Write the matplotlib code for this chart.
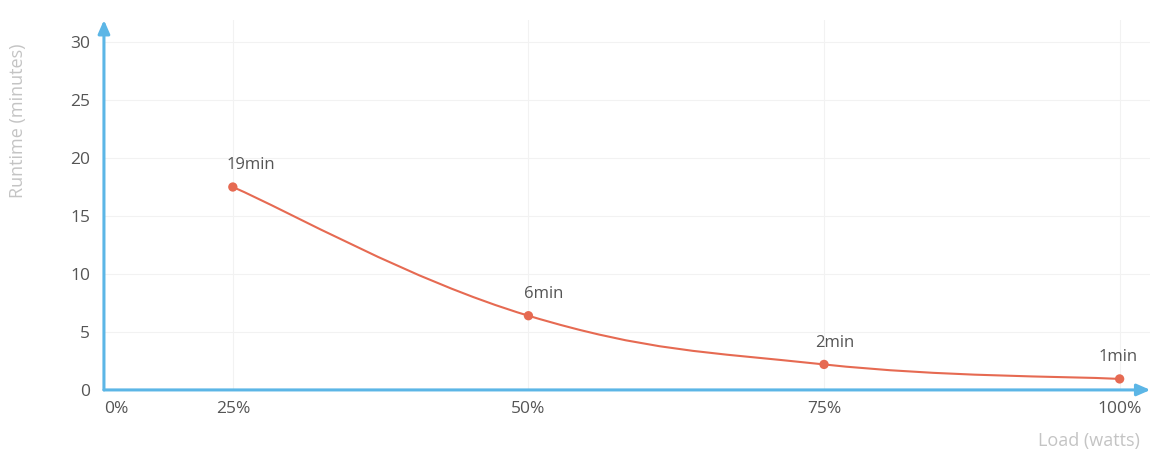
import matplotlib
matplotlib.use("Agg")
import matplotlib.pyplot as plt
from matplotlib.path import Path
from matplotlib.patches import PathPatch
import numpy as np

plt.rcParams['font.family'] = ['Open Sans', 'DejaVu Sans']

# Data
load_pct = [25, 50, 75, 100]
runtime_min = [17.5, 6.4, 2.2, 0.95]
point_labels = ["19min", "6min", "2min", "1min"]
x_tick_labels = ["0%", "25%", "50%", "75%", "100%"]
y_ticks = [0, 5, 10, 15, 20, 25, 30]

# label offsets (pixels) relative to each point
label_dx = [18, 15, 11, -2]

LINE = '#e66a52'
AXIS = '#5cb6e6'
TICK = '#555555'
TITLE = '#c4c4c4'

fig = plt.figure(figsize=(11.55, 4.55), dpi=100)
ax = fig.add_axes([0.090, 0.143, 0.906, 0.813])

x_left = 14.1
ax.set_xlim(x_left, 102.6)
ax.set_ylim(0, 31.9)

# smooth curve through the points (Catmull-Rom as cubic Bezier)
xs = np.array(load_pct, float)
ys = np.array(runtime_min, float)
verts = [(xs[0], ys[0])]
codes = [Path.MOVETO]
t = 0.4
n = len(xs)
for i in range(n - 1):
    p0 = (xs[max(i - 1, 0)], ys[max(i - 1, 0)])
    p1 = (xs[i], ys[i])
    p2 = (xs[i + 1], ys[i + 1])
    p3 = (xs[min(i + 2, n - 1)], ys[min(i + 2, n - 1)])
    c1 = (p1[0] + (p2[0] - p0[0]) * t / 2, p1[1] + (p2[1] - p0[1]) * t / 2)
    c2 = (p2[0] - (p3[0] - p1[0]) * t / 2, p2[1] - (p3[1] - p1[1]) * t / 2)
    verts += [c1, c2, p2]
    codes += [Path.CURVE4] * 3
ax.add_patch(PathPatch(Path(verts, codes), facecolor='none', edgecolor=LINE, lw=1.5, zorder=3))
ax.scatter(xs, ys, s=45, color=LINE, zorder=4, edgecolor='none')

for x, y, lab, dx in zip(load_pct, runtime_min, point_labels, label_dx):
    ax.annotate(lab, (x, y), xytext=(dx * 0.72, 15.5), textcoords='offset points',
                ha='center', va='center', fontsize=12, color='#555555')

# grid
for x in load_pct:
    ax.axvline(x, color='#f2f2f2', lw=0.8, zorder=0)
for y in y_ticks[1:]:
    ax.axhline(y, color='#f2f2f2', lw=0.8, zorder=0)

for s in ax.spines.values():
    s.set_visible(False)

# axes with arrows
ax.annotate('', xy=(1.0, 0), xytext=(0, 0), xycoords='axes fraction',
            arrowprops=dict(arrowstyle='-|>,head_length=0.8,head_width=0.35', color=AXIS, lw=2.2,
                            shrinkA=0, shrinkB=0), zorder=5)
ax.annotate('', xy=(0, 1.0), xytext=(0, 0), xycoords='axes fraction',
            arrowprops=dict(arrowstyle='-|>,head_length=0.8,head_width=0.35', color=AXIS, lw=2.2,
                            shrinkA=0, shrinkB=0), zorder=5)

ax.set_xticks([x_left] + load_pct)
ax.set_xticklabels(x_tick_labels)
ax.set_yticks(y_ticks)
ax.tick_params(axis='both', length=0, labelsize=12.5, colors=TICK)
ax.tick_params(axis='x', pad=8)
ax.tick_params(axis='y', pad=10)
xl = ax.get_xticklabels()
xl[0].set_ha('left')

fig.text(0.016, 0.735, 'Runtime (minutes)', rotation=90, ha='center', va='center',
         fontsize=13, color=TITLE)
fig.text(0.987, 0.012, 'Load (watts)', ha='right', va='bottom', fontsize=13, color=TITLE)

fig.savefig('out.png', dpi=100, facecolor='white')
